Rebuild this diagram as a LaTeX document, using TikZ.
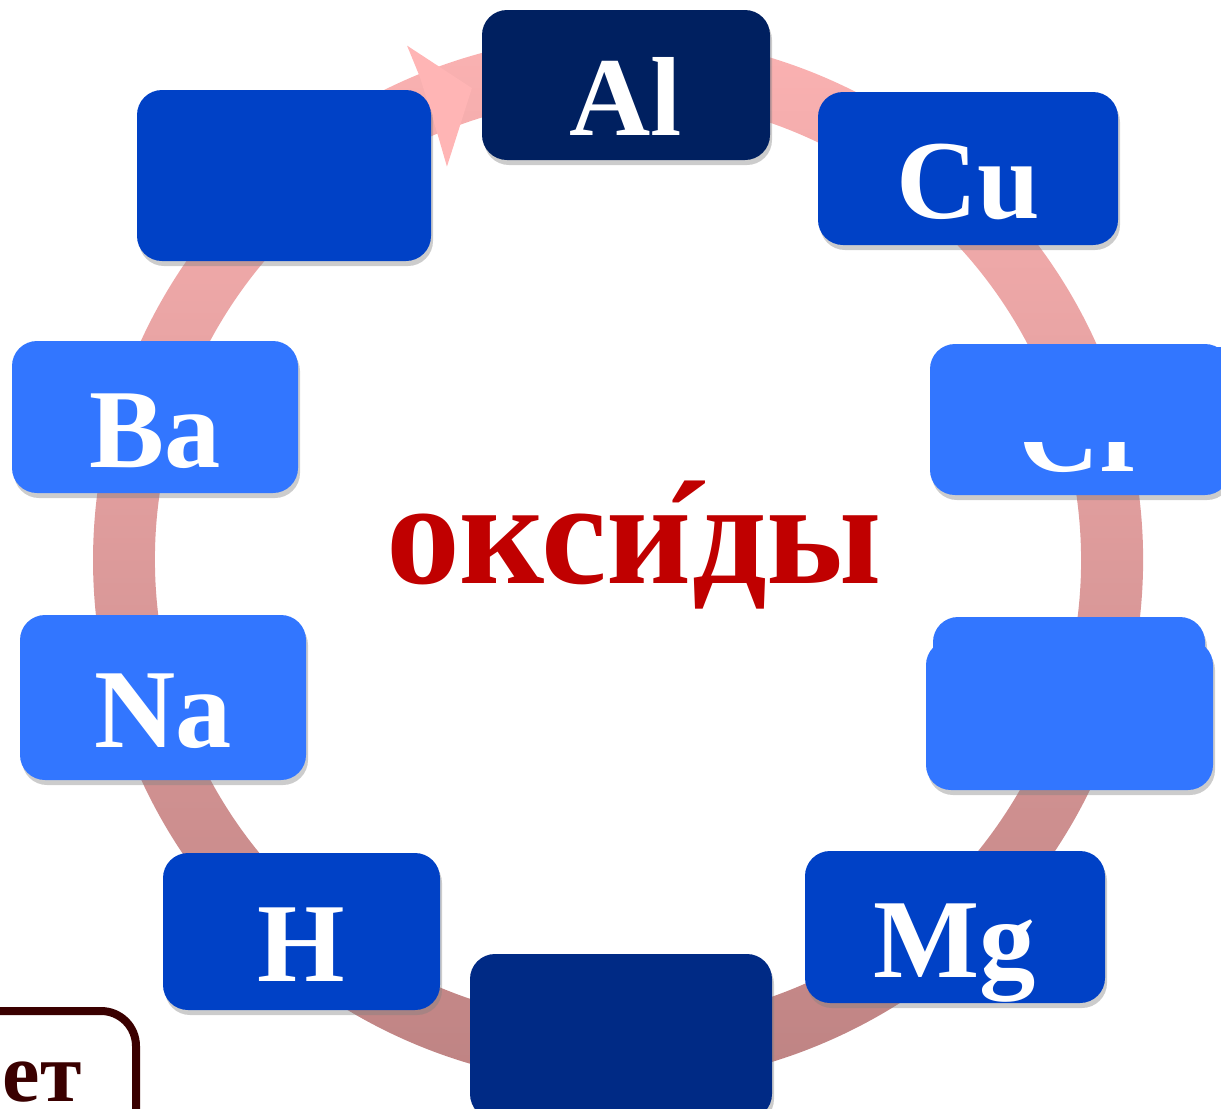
\documentclass[tikz,border=0pt]{standalone}
\usepackage{fontspec}
\setmainfont{Liberation Serif}
\usetikzlibrary{shadows}
\definecolor{navyel}{RGB}{0,32,96}
\definecolor{navybot}{RGB}{0,42,133}
\definecolor{blueel}{RGB}{0,65,198}
\definecolor{lightel}{RGB}{50,118,255}
\definecolor{ringtop}{RGB}{255,181,181}
\definecolor{ringbot}{RGB}{186,128,128}
\definecolor{oxred}{RGB}{192,0,0}
\definecolor{framebrown}{RGB}{58,0,0}
\tikzset{
  elbox/.style={rounded corners=0.25cm, inner sep=0pt, text=white,
    text height=1.0cm, text depth=0pt,
    font=\bfseries\fontsize{32}{32}\selectfont,
    drop shadow={opacity=0.4, shadow xshift=0.02cm, shadow yshift=-0.05cm}},
  eltext/.style={inner sep=0pt, text=white, font=\bfseries\fontsize{32}{32}\selectfont},
}
\begin{document}
\begin{tikzpicture}
  \useasboundingbox (0,0) rectangle (12.21,-11.08);
  \coordinate (ringc) at (6.18,-5.60);
  \shade[top color=ringtop, bottom color=ringbot]
    ([shift={(112.5:5.25)}]ringc) arc[start angle=112.5, end angle=-260, radius=5.25]
    -- ([shift={(-260:4.63)}]ringc) arc[start angle=-260, end angle=112.5, radius=4.63] -- cycle;
  \fill[ringtop] ([shift={(113:4.60)}]ringc) -- ([shift={(113.5:4.29)}]ringc)
    -- ([shift={(107.2:4.94)}]ringc) -- ([shift={(112.3:5.56)}]ringc)
    -- ([shift={(112.3:5.22)}]ringc) -- cycle;

  \node[elbox, fill=navyel, minimum width=2.88cm, minimum height=1.50cm] (al) at (6.26,-0.85) {Al};
  \node[elbox, fill=blueel, minimum width=3.00cm, minimum height=1.53cm] (cu) at (9.68,-1.685) {Cu};
  \node[elbox, fill=lightel, minimum width=3.00cm, minimum height=1.51cm] (cr) at (10.80,-4.195) {};
  \node[eltext, anchor=base] (crtext) at (10.84,-4.71) {Cr};
  \fill[lightel] (9.60,-3.47) rectangle (12.21,-4.42);
  \node[elbox, fill=lightel, minimum width=2.72cm, minimum height=0.90cm] (rtop) at (10.69,-6.67) {};
  \node[elbox, fill=lightel, minimum width=2.87cm, minimum height=1.50cm] (rbox) at (10.695,-7.15) {};
  \node[elbox, fill=blueel, minimum width=3.00cm, minimum height=1.52cm] (mg) at (9.55,-9.27) {Mg};
  \node[elbox, fill=navybot, minimum width=3.02cm, minimum height=1.65cm] (bot) at (6.21,-10.365) {};
  \node[elbox, fill=blueel, minimum width=2.77cm, minimum height=1.57cm] (h) at (3.015,-9.315) {H};
  \node[elbox, fill=lightel, minimum width=2.86cm, minimum height=1.65cm] (na) at (1.63,-6.975) {Na};
  \node[elbox, fill=lightel, minimum width=2.86cm, minimum height=1.52cm] (ba) at (1.55,-4.17) {Ba};
  \node[elbox, fill=blueel, minimum width=2.94cm, minimum height=1.71cm] (ul) at (2.84,-1.755) {};

  \node[font=\bfseries\fontsize{42}{42}\selectfont, text=oxred, anchor=base] (oxides) at (6.34,-5.83)
    {окс\ooalign{и\cr\hfil\char"00B4\kern-0.13em\cr}ды};

  \node[draw=framebrown, line width=0.08cm, rounded corners=0.35cm,
    minimum width=2.96cm, minimum height=1.80cm] (answer) at (-0.12,-11.01) {};
  \node[text=framebrown, font=\bfseries\fontsize{24}{24}\selectfont, inner sep=0pt,
    anchor=base west] (answertext) at (0.02,-11.01) {ет};
\end{tikzpicture}
\end{document}
